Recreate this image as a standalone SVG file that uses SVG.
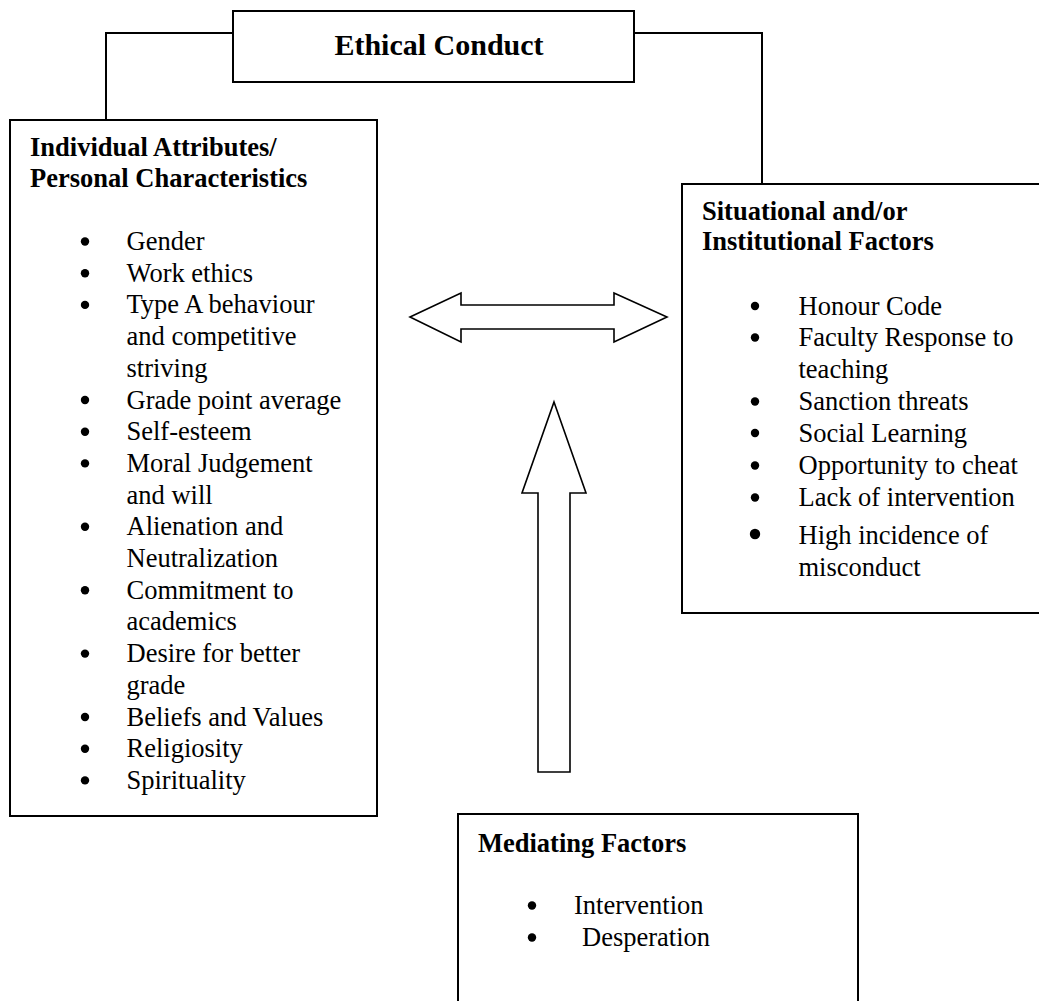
<svg xmlns="http://www.w3.org/2000/svg" width="1039" height="1001" viewBox="0 0 1039 1001">
<style>
.box{fill:#fff;stroke:#000;stroke-width:2}
.conn{fill:none;stroke:#000;stroke-width:2}
.arr{fill:#fff;stroke:#000;stroke-width:1.6;stroke-linejoin:miter}
text{font-family:"Liberation Serif","Times New Roman",serif;font-size:26.5px;fill:#000}
.t{font-weight:bold}
.big{font-size:30px;font-weight:bold}
.dot{fill:#000}
</style>
<rect width="1039" height="1001" fill="#fff"/>
<g id="connectors">
<polyline class="conn" points="233,33 106,33 106,120"/>
<polyline class="conn" points="634,33 762,33 762,184"/>
<polygon class="arr" points="410,317 461,293 461,305 614,305 614,293 667,317 614,342 614,329 461,329 461,342"/>
<polygon class="arr" points="554,402 586,493 570,493 570,772 538,772 538,493 522,493"/>
</g>
<g id="ethical">
<rect class="box" x="233" y="11" width="401" height="71"/>
<text class="big" x="439" y="55" text-anchor="middle">Ethical Conduct</text>
</g>
<g id="individual">
<rect class="box" x="10" y="120" width="367" height="696"/>
<text class="t" x="30" y="156">Individual Attributes/</text>
<text class="t" x="30" y="187">Personal Characteristics</text>
<g class="dot">
<circle cx="85" cy="241.5" r="4.2"/>
<circle cx="85" cy="273.2" r="4.2"/>
<circle cx="85" cy="304.9" r="4.2"/>
<circle cx="85" cy="400" r="4.2"/>
<circle cx="85" cy="431.7" r="4.2"/>
<circle cx="85" cy="463.4" r="4.2"/>
<circle cx="85" cy="526.8" r="4.2"/>
<circle cx="85" cy="590.2" r="4.2"/>
<circle cx="85" cy="653.6" r="4.2"/>
<circle cx="85" cy="717" r="4.2"/>
<circle cx="85" cy="748.7" r="4.2"/>
<circle cx="85" cy="780.4" r="4.2"/>
</g>
<text x="126.5" y="250">Gender</text>
<text x="126.5" y="281.7">Work ethics</text>
<text x="126.5" y="313.4">Type A behaviour</text>
<text x="126.5" y="345.1">and competitive</text>
<text x="126.5" y="376.8">striving</text>
<text x="126.5" y="408.5">Grade point average</text>
<text x="126.5" y="440.2">Self-esteem</text>
<text x="126.5" y="471.9">Moral Judgement</text>
<text x="126.5" y="503.6">and will</text>
<text x="126.5" y="535.3">Alienation and</text>
<text x="126.5" y="567">Neutralization</text>
<text x="126.5" y="598.7">Commitment to</text>
<text x="126.5" y="630.4">academics</text>
<text x="126.5" y="662.1">Desire for better</text>
<text x="126.5" y="693.8">grade</text>
<text x="126.5" y="725.5">Beliefs and Values</text>
<text x="126.5" y="757.2">Religiosity</text>
<text x="126.5" y="788.9">Spirituality</text>
</g>
<g id="situational">
<rect class="box" x="682" y="184" width="370" height="429"/>
<text class="t" x="702" y="220">Situational and/or</text>
<text class="t" x="702" y="250">Institutional Factors</text>
<g class="dot">
<circle cx="755" cy="306" r="4.2"/>
<circle cx="755" cy="337.5" r="4.2"/>
<circle cx="755" cy="401.5" r="4.2"/>
<circle cx="755" cy="433" r="4.2"/>
<circle cx="755" cy="465.5" r="4.2"/>
<circle cx="755" cy="497.5" r="4.2"/>
<circle cx="755" cy="534" r="5.2"/>
</g>
<text x="798.5" y="314.5">Honour Code</text>
<text x="798.5" y="346">Faculty Response to</text>
<text x="798.5" y="377.5">teaching</text>
<text x="798.5" y="410">Sanction threats</text>
<text x="798.5" y="441.5">Social Learning</text>
<text x="798.5" y="474">Opportunity to cheat</text>
<text x="798.5" y="506">Lack of intervention</text>
<text x="798.5" y="543.5">High incidence of</text>
<text x="798.5" y="575.5">misconduct</text>
</g>
<g id="mediating">
<rect class="box" x="458" y="814" width="400" height="200"/>
<text class="t" x="478" y="852">Mediating Factors</text>
<circle class="dot" cx="532" cy="905.5" r="4.2"/>
<circle class="dot" cx="532" cy="937.5" r="4.2"/>
<text x="574" y="914">Intervention</text>
<text x="582" y="946">Desperation</text>
</g>
</svg>
